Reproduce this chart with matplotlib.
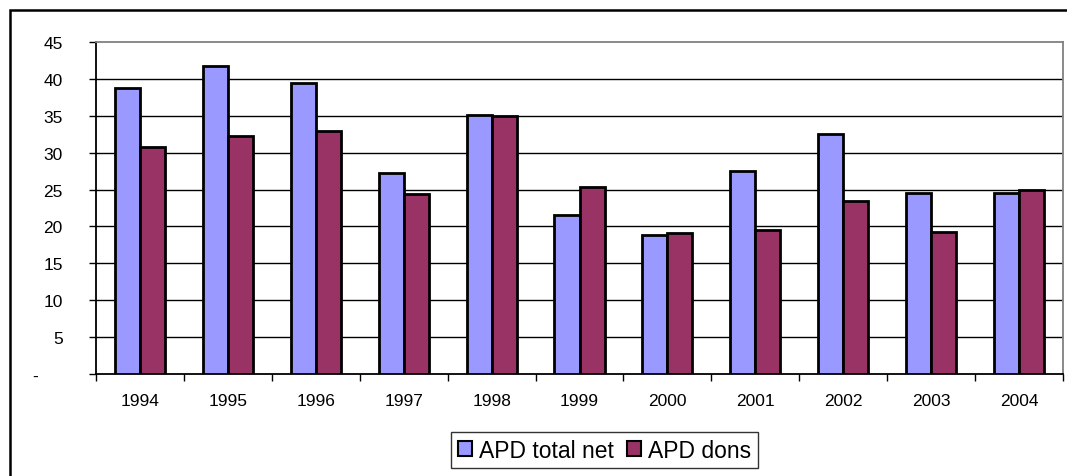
import numpy as np
import matplotlib
matplotlib.use('Agg')
import matplotlib.pyplot as plt
from matplotlib.patches import Rectangle

years = ['1994', '1995', '1996', '1997', '1998', '1999', '2000', '2001', '2002', '2003', '2004']
apd_total = [38.8, 41.8, 39.5, 27.2, 35.1, 21.5, 18.8, 27.5, 32.5, 24.5, 24.5]
apd_dons = [30.8, 32.3, 32.9, 24.4, 35.0, 25.3, 19.1, 19.5, 23.4, 19.3, 25.0]
yticks = [0, 5, 10, 15, 20, 25, 30, 35, 40, 45]
ylabels = ['-     ', '5', '10', '15', '20', '25', '30', '35', '40', '45']

plt.rcParams['font.family'] = ['Liberation Sans', 'DejaVu Sans']

fig = plt.figure(figsize=(10.67, 4.77), dpi=100)
ax = fig.add_axes([96/1067, 1 - 375/477, (1063 - 96)/1067, (375 - 43)/477])

x = np.arange(len(years))
w = 0.285
ax.bar(x - w/2, apd_total, w, color='#9999FF', edgecolor='black', lw=2, label='APD total net', zorder=3)
ax.bar(x + w/2, apd_dons, w, color='#993366', edgecolor='black', lw=2, label='APD dons', zorder=3)

ax.set_xlim(-0.5, len(years) - 0.5)
ax.set_ylim(0, 45)

# year labels in the middle of each group, tick marks on the boundaries
ax.set_xticks(x)
ax.set_xticklabels(years, fontsize=12.5)
ax.tick_params(axis='x', which='major', length=0, pad=13.5)
ax.set_xticks(np.arange(-0.5, len(years)), minor=True)
ax.tick_params(axis='x', which='minor', length=5, width=1, direction='out', color='black')

ax.set_yticks(yticks)
ax.set_yticklabels(ylabels, fontsize=12.5)
ax.tick_params(axis='y', length=5, width=1, direction='out', pad=19, color='black')

for v in yticks[1:-1]:
	ax.axhline(v, color='black', lw=1, zorder=1)

ax.spines['left'].set_color('black')
ax.spines['bottom'].set_color('black')
ax.spines['top'].set_color('#808080')
ax.spines['right'].set_color('#808080')
for s in ax.spines.values():
	s.set_linewidth(1.3)

leg = fig.legend(loc='center', bbox_to_anchor=(604.5/1067, 1 - 451/477), ncol=2,
	fontsize=16.5, frameon=True, fancybox=False, handlelength=0.62, handleheight=0.62,
	handletextpad=0.3, columnspacing=0.6, borderpad=0.3, borderaxespad=0)
leg.get_frame().set_edgecolor('black')
leg.get_frame().set_linewidth(1)
for h in leg.legend_handles:
	h.set_linewidth(1.5)

# chart frame, runs off the right and bottom edges
fig.patches.append(Rectangle((10/1067, -0.1), 1.2, 1 - 11/477 + 0.1, transform=fig.transFigure,
	fill=False, edgecolor='black', lw=1.8))

plt.savefig('out.png', dpi=100)
